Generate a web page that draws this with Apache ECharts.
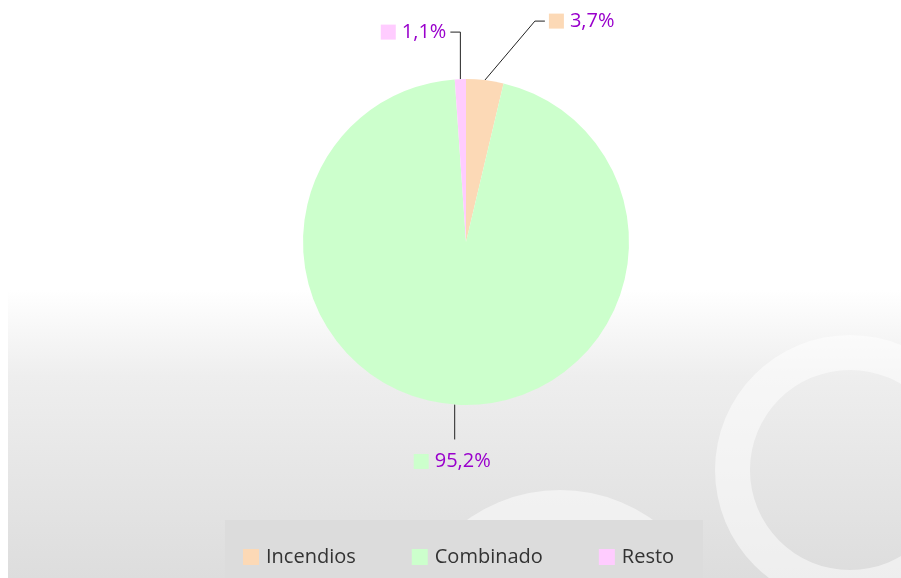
<!DOCTYPE html>
<html>
<head>
<meta charset="utf-8">
<script src="https://cdn.jsdelivr.net/npm/echarts@6/dist/echarts.min.js"></script>
<style>
  html, body { margin: 0; padding: 0; background: #fff; }
  #chart { width: 901px; height: 578px; }
</style>
</head>
<body>
<div id="chart"></div>
<script>
  var categories = ['Incendios', 'Combinado', 'Resto'];
  var values = [3.7, 95.2, 1.1];
  var colors = ['#fcd9b6', '#ccffcc', '#ffccff'];

  var chart = echarts.init(document.getElementById('chart'));

  // Excel-like callouts: elbow lines and label placement per slice
  function placeLabel(params) {
    var p = params.labelLinePoints[0];
    var r = params.labelRect;
    var i = params.dataIndex;
    if (i === 0) {
      var bend = [p[0] + 50, p[1] - 59];
      var end = [bend[0] + 10, bend[1]];
      return { x: end[0] + 4, y: bend[1], align: 'left', verticalAlign: 'middle',
        labelLinePoints: [p, bend, end] };
    }
    if (i === 2) {
      var b2 = [p[0], p[1] - 47];
      var e2 = [b2[0] - 10, b2[1]];
      return { x: e2[0] - 4 - r.width, y: b2[1], align: 'left', verticalAlign: 'middle',
        labelLinePoints: [p, b2, e2] };
    }
    var s = [p[0] + 2, p[1]];
    var b1 = [s[0], s[1] + 35];
    return { x: b1[0] - 41, y: b1[1] + 22, align: 'left', verticalAlign: 'middle',
      labelLinePoints: [s, b1, b1] };
  }

  var option = {
    backgroundColor: '#ffffff',
    animation: false,
    color: colors,
    graphic: [
      {
        type: 'rect', silent: true, z: -10,
        shape: { x: 8, y: 290, width: 893, height: 288 },
        style: {
          fill: new echarts.graphic.LinearGradient(0, 0, 0, 1, [
            { offset: 0, color: '#ffffff' },
            { offset: 0.3, color: '#eeeeee' },
            { offset: 1, color: '#dddddd' }
          ])
        }
      },
      {
        type: 'ring', silent: true, z: -9,
        shape: { cx: 850, cy: 470, r: 135, r0: 100 },
        style: { fill: 'rgba(255,255,255,0.5)' }
      },
      {
        type: 'ring', silent: true, z: -9,
        shape: { cx: 560, cy: 650, r: 160, r0: 115 },
        style: { fill: 'rgba(255,255,255,0.5)' }
      },
      {
        type: 'rect', silent: true, z: -5,
        shape: { x: 225, y: 520, width: 478, height: 58 },
        style: { fill: '#dcdcdc' }
      }
    ],
    legend: {
      data: categories,
      left: 238,
      top: 542,
      itemWidth: 16,
      itemHeight: 16,
      itemGap: 56,
      icon: 'rect',
      textStyle: { fontFamily: 'Open Sans', fontSize: 20, color: '#333333', padding: [0, 0, 0, 2] }
    },
    series: [{
      type: 'pie',
      center: [466, 242],
      radius: 163,
      startAngle: 90,
      clockwise: true,
      data: categories.map(function (c, i) {
        return {
          name: c,
          value: values[i],
          label: { rich: { sq: { width: 15, height: 15, backgroundColor: colors[i] } } }
        };
      }),
      label: {
        show: true,
        position: 'outside',
        formatter: function (p) {
          return '{sq|}{v|' + String(p.value).replace('.', ',') + '%}';
        },
        rich: {
          sq: { width: 15, height: 15 },
          v: { fontFamily: 'Open Sans', fontSize: 20, color: '#9900cc', padding: [0, 0, 0, 6] }
        }
      },
      labelLine: {
        show: true,
        length: 10,
        length2: 10,
        lineStyle: { color: '#222222', width: 1 }
      },
      labelLayout: placeLabel,
      emphasis: { disabled: true }
    }]
  };

  chart.setOption(option);
</script>
</body>
</html>
